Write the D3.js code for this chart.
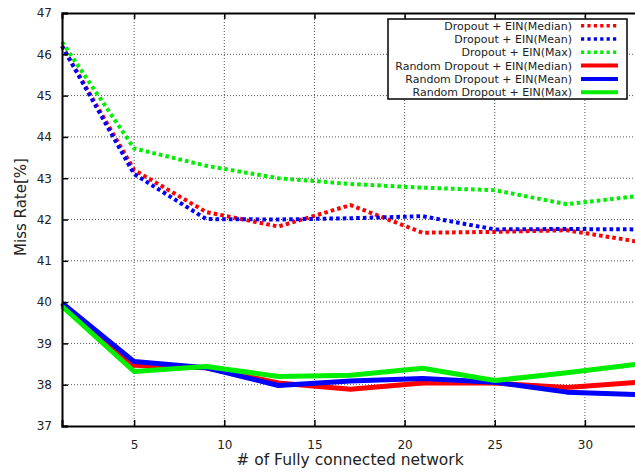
<!DOCTYPE html>
<html>
<head>
<meta charset="utf-8">
<script src="https://cdn.jsdelivr.net/npm/d3@7"></script>
<style>
  body { margin: 0; background: #fff; }
  text { font-family: "DejaVu Sans", sans-serif; fill: #222; }
</style>
</head>
<body>
<div id="chart-area"></div>
<script>
// network counts on x
var nets = [1, 5, 9, 13, 17, 21, 25, 29, 33];

// Dropout + EIN
var dropMedian = [46.2, 43.2, 42.18, 41.83, 42.35, 41.68, 41.7, 41.74, 41.46];
var dropMean   = [46.2, 43.1, 42.01, 42.0, 42.03, 42.08, 41.76, 41.77, 41.76];
var dropMax    = [46.3, 43.72, 43.3, 43.0, 42.86, 42.77, 42.71, 42.37, 42.57];

// Random Dropout + EIN
var randMedian = [39.95, 38.47, 38.41, 38.04, 37.89, 38.04, 38.04, 37.93, 38.06];
var randMean   = [39.98, 38.56, 38.41, 37.98, 38.09, 38.15, 38.06, 37.82, 37.76];
var randMax    = [39.9, 38.32, 38.44, 38.2, 38.23, 38.4, 38.1, 38.29, 38.5];

var xTicks = [5, 10, 15, 20, 25, 30];
var yTicks = [37, 38, 39, 40, 41, 42, 43, 44, 45, 46, 47];

var series = [
  {name: "Dropout + EIN(Median)", values: dropMedian, color: "#ff0000", dotted: true},
  {name: "Dropout + EIN(Mean)", values: dropMean, color: "#0000ff", dotted: true},
  {name: "Dropout + EIN(Max)", values: dropMax, color: "#00ee00", dotted: true},
  {name: "Random Dropout + EIN(Median)", values: randMedian, color: "#ff0000", dotted: false},
  {name: "Random Dropout + EIN(Mean)", values: randMean, color: "#0000ff", dotted: false},
  {name: "Random Dropout + EIN(Max)", values: randMax, color: "#00ee00", dotted: false}
];

var margin = {left: 62, right: 0, top: 13, bottom: 46};
var width = 577, height = 413;

var svg = d3.select("#chart-area").append("svg")
    .attr("width", 635)
    .attr("height", 472);

var g = svg.append("g")
    .attr("transform", "translate(" + margin.left + "," + margin.top + ")");

var x = d3.scaleLinear().domain([1, 33]).range([0, width]);
var y = d3.scaleLinear().domain([37, 47]).range([height, 0]);

// dotted grid
g.append("g").selectAll("line").data(xTicks).enter().append("line")
    .attr("x1", d => x(d)).attr("x2", d => x(d))
    .attr("y1", 0).attr("y2", height)
    .attr("stroke", "#555").attr("stroke-width", 1)
    .attr("stroke-dasharray", "1,2");
g.append("g").selectAll("line").data(yTicks.slice(1, -1)).enter().append("line")
    .attr("x1", 0).attr("x2", width)
    .attr("y1", d => y(d)).attr("y2", d => y(d))
    .attr("stroke", "#555").attr("stroke-width", 1)
    .attr("stroke-dasharray", "1,2");

// series lines
var line = d3.line()
    .x((d, i) => x(nets[i]))
    .y(d => y(d));

g.selectAll("path.series").data(series).enter().append("path")
    .attr("class", "series")
    .attr("d", d => line(d.values))
    .attr("fill", "none")
    .attr("stroke", d => d.color)
    .attr("stroke-width", d => d.dotted ? 4 : 5)
    .attr("stroke-linejoin", "round")
    .attr("stroke-dasharray", d => d.dotted ? "3.6,3.1" : null);

// axes with inward ticks
var bottomAxis = d3.axisBottom(x).tickValues(xTicks).tickSize(-6).tickPadding(14);
g.append("g")
    .attr("class", "bottom axis")
    .attr("transform", "translate(0," + height + ")")
    .call(bottomAxis);

var topAxis = d3.axisTop(x).tickValues(xTicks).tickSize(-6).tickFormat("");
g.append("g")
    .attr("class", "top axis")
    .call(topAxis);

var leftAxis = d3.axisLeft(y).tickValues(yTicks).tickSize(-6).tickPadding(10);
g.append("g")
    .attr("class", "left axis")
    .call(leftAxis);

g.selectAll(".axis .domain").attr("stroke", "#000").attr("stroke-width", 2);
g.selectAll(".axis .tick line").attr("stroke", "#000").attr("stroke-width", 1.5);
g.selectAll(".axis text").attr("font-size", "12px").attr("fill", "#222")
    .style("font-family", "DejaVu Sans, sans-serif");

// axis labels
svg.append("text")
    .attr("x", 350).attr("y", 465)
    .attr("font-size", "15.5px")
    .attr("text-anchor", "middle")
    .text("# of Fully connected network");

svg.append("text")
    .attr("transform", "rotate(-90)")
    .attr("x", -207).attr("y", 26)
    .attr("font-size", "15px")
    .attr("text-anchor", "middle")
    .text("Miss Rate[%]");

// legend
var legend = svg.append("g").attr("class", "legend");
legend.append("rect")
    .attr("x", 388).attr("y", 19)
    .attr("width", 239).attr("height", 80)
    .attr("fill", "#fff")
    .attr("stroke", "#000").attr("stroke-width", 1.5);

var rows = legend.selectAll("g.row").data(series).enter().append("g")
    .attr("class", "row")
    .attr("transform", (d, i) => "translate(0," + (25.7 + i * 13.3) + ")");

rows.append("text")
    .attr("x", 572).attr("y", 4)
    .attr("text-anchor", "end")
    .attr("font-size", "11px")
    .text(d => d.name);

rows.append("line")
    .attr("x1", 581).attr("x2", 618)
    .attr("y1", 0).attr("y2", 0)
    .attr("stroke", d => d.color)
    .attr("stroke-width", d => d.dotted ? 3.5 : 4)
    .attr("stroke-dasharray", d => d.dotted ? "3.2,3.2" : null);
</script>
</body>
</html>
